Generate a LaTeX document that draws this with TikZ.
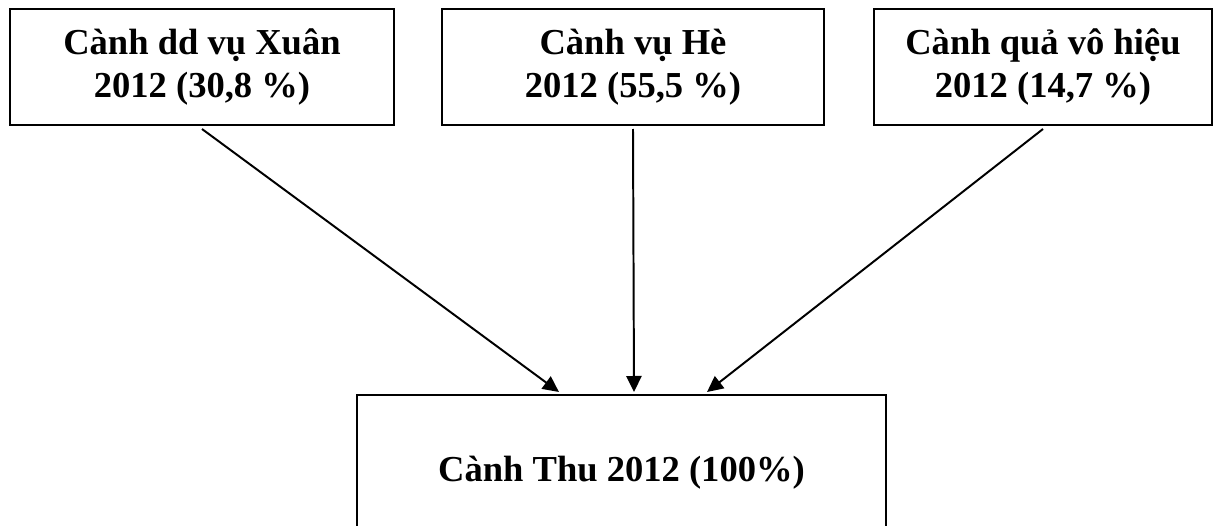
\documentclass[tikz,border=0pt]{standalone}
\usepackage{fontspec}
\setmainfont{Liberation Serif}
\usepackage{tikz}
\usetikzlibrary{arrows.meta}

\begin{document}
\begin{tikzpicture}[
    x=0.025cm, y=-0.025cm,
    seasonbox/.style={draw, line width=1.4pt, minimum height=2.9cm,
        align=center, inner sep=0pt},
    totalbox/.style={draw, line width=1.4pt, minimum width=13.225cm,
        minimum height=3.9cm, align=center, inner sep=0pt},
    flow/.style={line width=1.4pt, -{Triangle[length=0.4cm, width=0.38cm]}},
    every node/.style={font=\fontsize{26}{30.5}\selectfont\bfseries}
]
    \useasboundingbox (0,0) rectangle (1219,526);

    \node[seasonbox, minimum width=9.6cm] (xuan) at (202,67) {Cành dd vụ Xuân\\2012 (30,8 \%)};
    \node[seasonbox, minimum width=9.55cm] (he) at (633,67) {Cành vụ Hè\\2012 (55,5 \%)};
    \node[seasonbox, minimum width=8.45cm] (qua) at (1043,67) {Cành quả vô hiệu\\2012 (14,7 \%)};

    \node[totalbox] (thu) at (621.5,473) {Cành Thu 2012 (100\%)};

    \draw[flow] ([yshift=-0.075cm]xuan.south) -- ([xshift=-1.5625cm, yshift=0.05cm]thu.north);
    \draw[flow] ([yshift=-0.075cm]he.south) -- ([xshift=0.3125cm, yshift=0.05cm]thu.north);
    \draw[flow] ([yshift=-0.075cm]qua.south) -- ([xshift=2.1375cm, yshift=0.05cm]thu.north);
\end{tikzpicture}
\end{document}
